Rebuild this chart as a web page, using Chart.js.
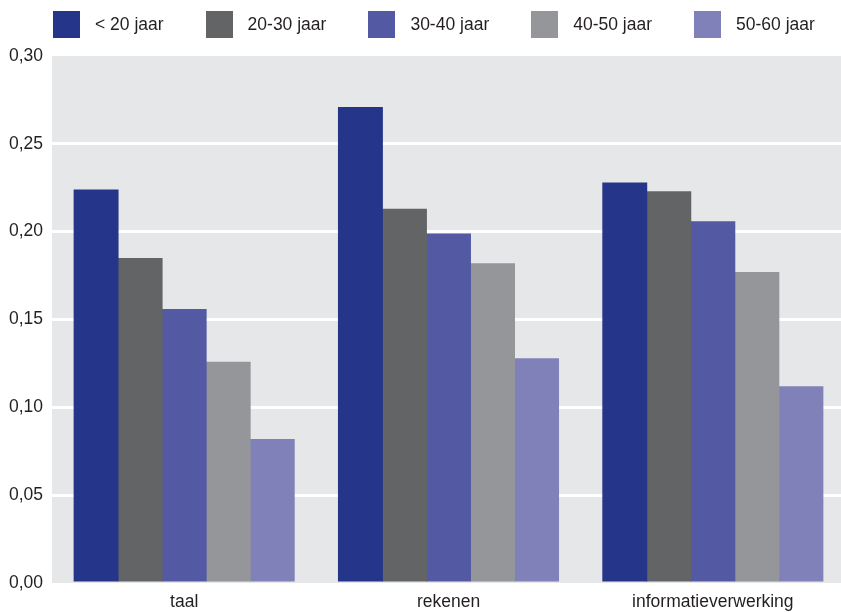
<!DOCTYPE html>
<html>
<head>
<meta charset="utf-8">
<script src="https://cdn.jsdelivr.net/npm/chart.js@4"></script>
<style>
  html, body { margin: 0; padding: 0; background: #ffffff; overflow: hidden; width: 841px; height: 612px; }
  #wrap { position: relative; width: 841px; height: 612px; overflow: hidden; }
  #c { position: absolute; left: 0; top: 0; }
  #legend { position: absolute; left: 53px; top: 11px; display: flex; font-family: "Liberation Sans", Arial, sans-serif; font-size: 17.5px; color: #231f20; }
  .item { display: flex; align-items: center; margin-right: 42px; height: 27px; white-space: nowrap; }
  .box { width: 27px; height: 27px; margin-right: 15px; }
</style>
</head>
<body>
<div id="wrap">
  <canvas id="c" width="845" height="612"></canvas>
  <div id="legend"></div>
</div>
<script>
const categories = ['taal', 'rekenen', 'informatieverwerking'];
const seriesNames = ['< 20 jaar', '20-30 jaar', '30-40 jaar', '40-50 jaar', '50-60 jaar'];
const under20 = [0.224, 0.271, 0.228];
const age20to30 = [0.185, 0.213, 0.223];
const age30to40 = [0.156, 0.199, 0.206];
const age40to50 = [0.126, 0.182, 0.177];
const age50to60 = [0.082, 0.128, 0.112];
const yTicks = [0, 0.05, 0.10, 0.15, 0.20, 0.25, 0.30];
const colors = ['#25358a', '#636466', '#5359a3', '#95969a', '#8181b9'];

const seriesValues = [under20, age20to30, age30to40, age40to50, age50to60];

// HTML legend
const legendEl = document.getElementById('legend');
seriesNames.forEach((name, i) => {
  const it = document.createElement('div');
  it.className = 'item';
  const b = document.createElement('div');
  b.className = 'box';
  b.style.background = colors[i];
  const t = document.createElement('span');
  t.textContent = name;
  it.appendChild(b); it.appendChild(t);
  legendEl.appendChild(it);
});

const plotBg = {
  id: 'plotBg',
  beforeDraw(chart) {
    const { ctx, chartArea: a } = chart;
    ctx.save();
    ctx.fillStyle = '#e6e7e9';
    ctx.fillRect(a.left, a.top, a.right - a.left, a.bottom - a.top);
    ctx.restore();
  }
};

const FONT = { family: '"Liberation Sans", Arial, sans-serif', size: 17.5 };

new Chart(document.getElementById('c'), {
  type: 'bar',
  data: {
    labels: categories,
    datasets: seriesNames.map((n, i) => ({
      label: n,
      data: seriesValues[i],
      backgroundColor: colors[i],
      borderWidth: 0,
      categoryPercentage: 0.833,
      barPercentage: 1.02
    }))
  },
  options: {
    responsive: false,
    animation: false,
    layout: { padding: { top: 56, right: 0, bottom: 0, left: 0 } },
    plugins: { legend: { display: false }, tooltip: { enabled: false } },
    scales: {
      x: {
        grid: { display: false, drawTicks: false },
        border: { display: false },
        ticks: { color: '#231f20', font: FONT, padding: 9, maxRotation: 0 },
        afterFit(scale) { scale.height = 29; }
      },
      y: {
        min: 0, max: 0.3,
        afterBuildTicks(scale) { scale.ticks = yTicks.map(v => ({ value: v })); },
        grid: {
          drawTicks: false,
          lineWidth: 3,
          color: (ctx) => (ctx.tick && (ctx.tick.value === 0 || Math.abs(ctx.tick.value - 0.3) < 1e-9)) ? 'rgba(0,0,0,0)' : '#ffffff'
        },
        border: { display: false },
        ticks: {
          color: '#231f20', font: FONT, padding: 9,
          callback: (v) => Number(v).toFixed(2).replace('.', ',')
        },
        afterFit(scale) { scale.width = 52; }
      }
    }
  },
  plugins: [plotBg]
});
</script>
</body>
</html>
